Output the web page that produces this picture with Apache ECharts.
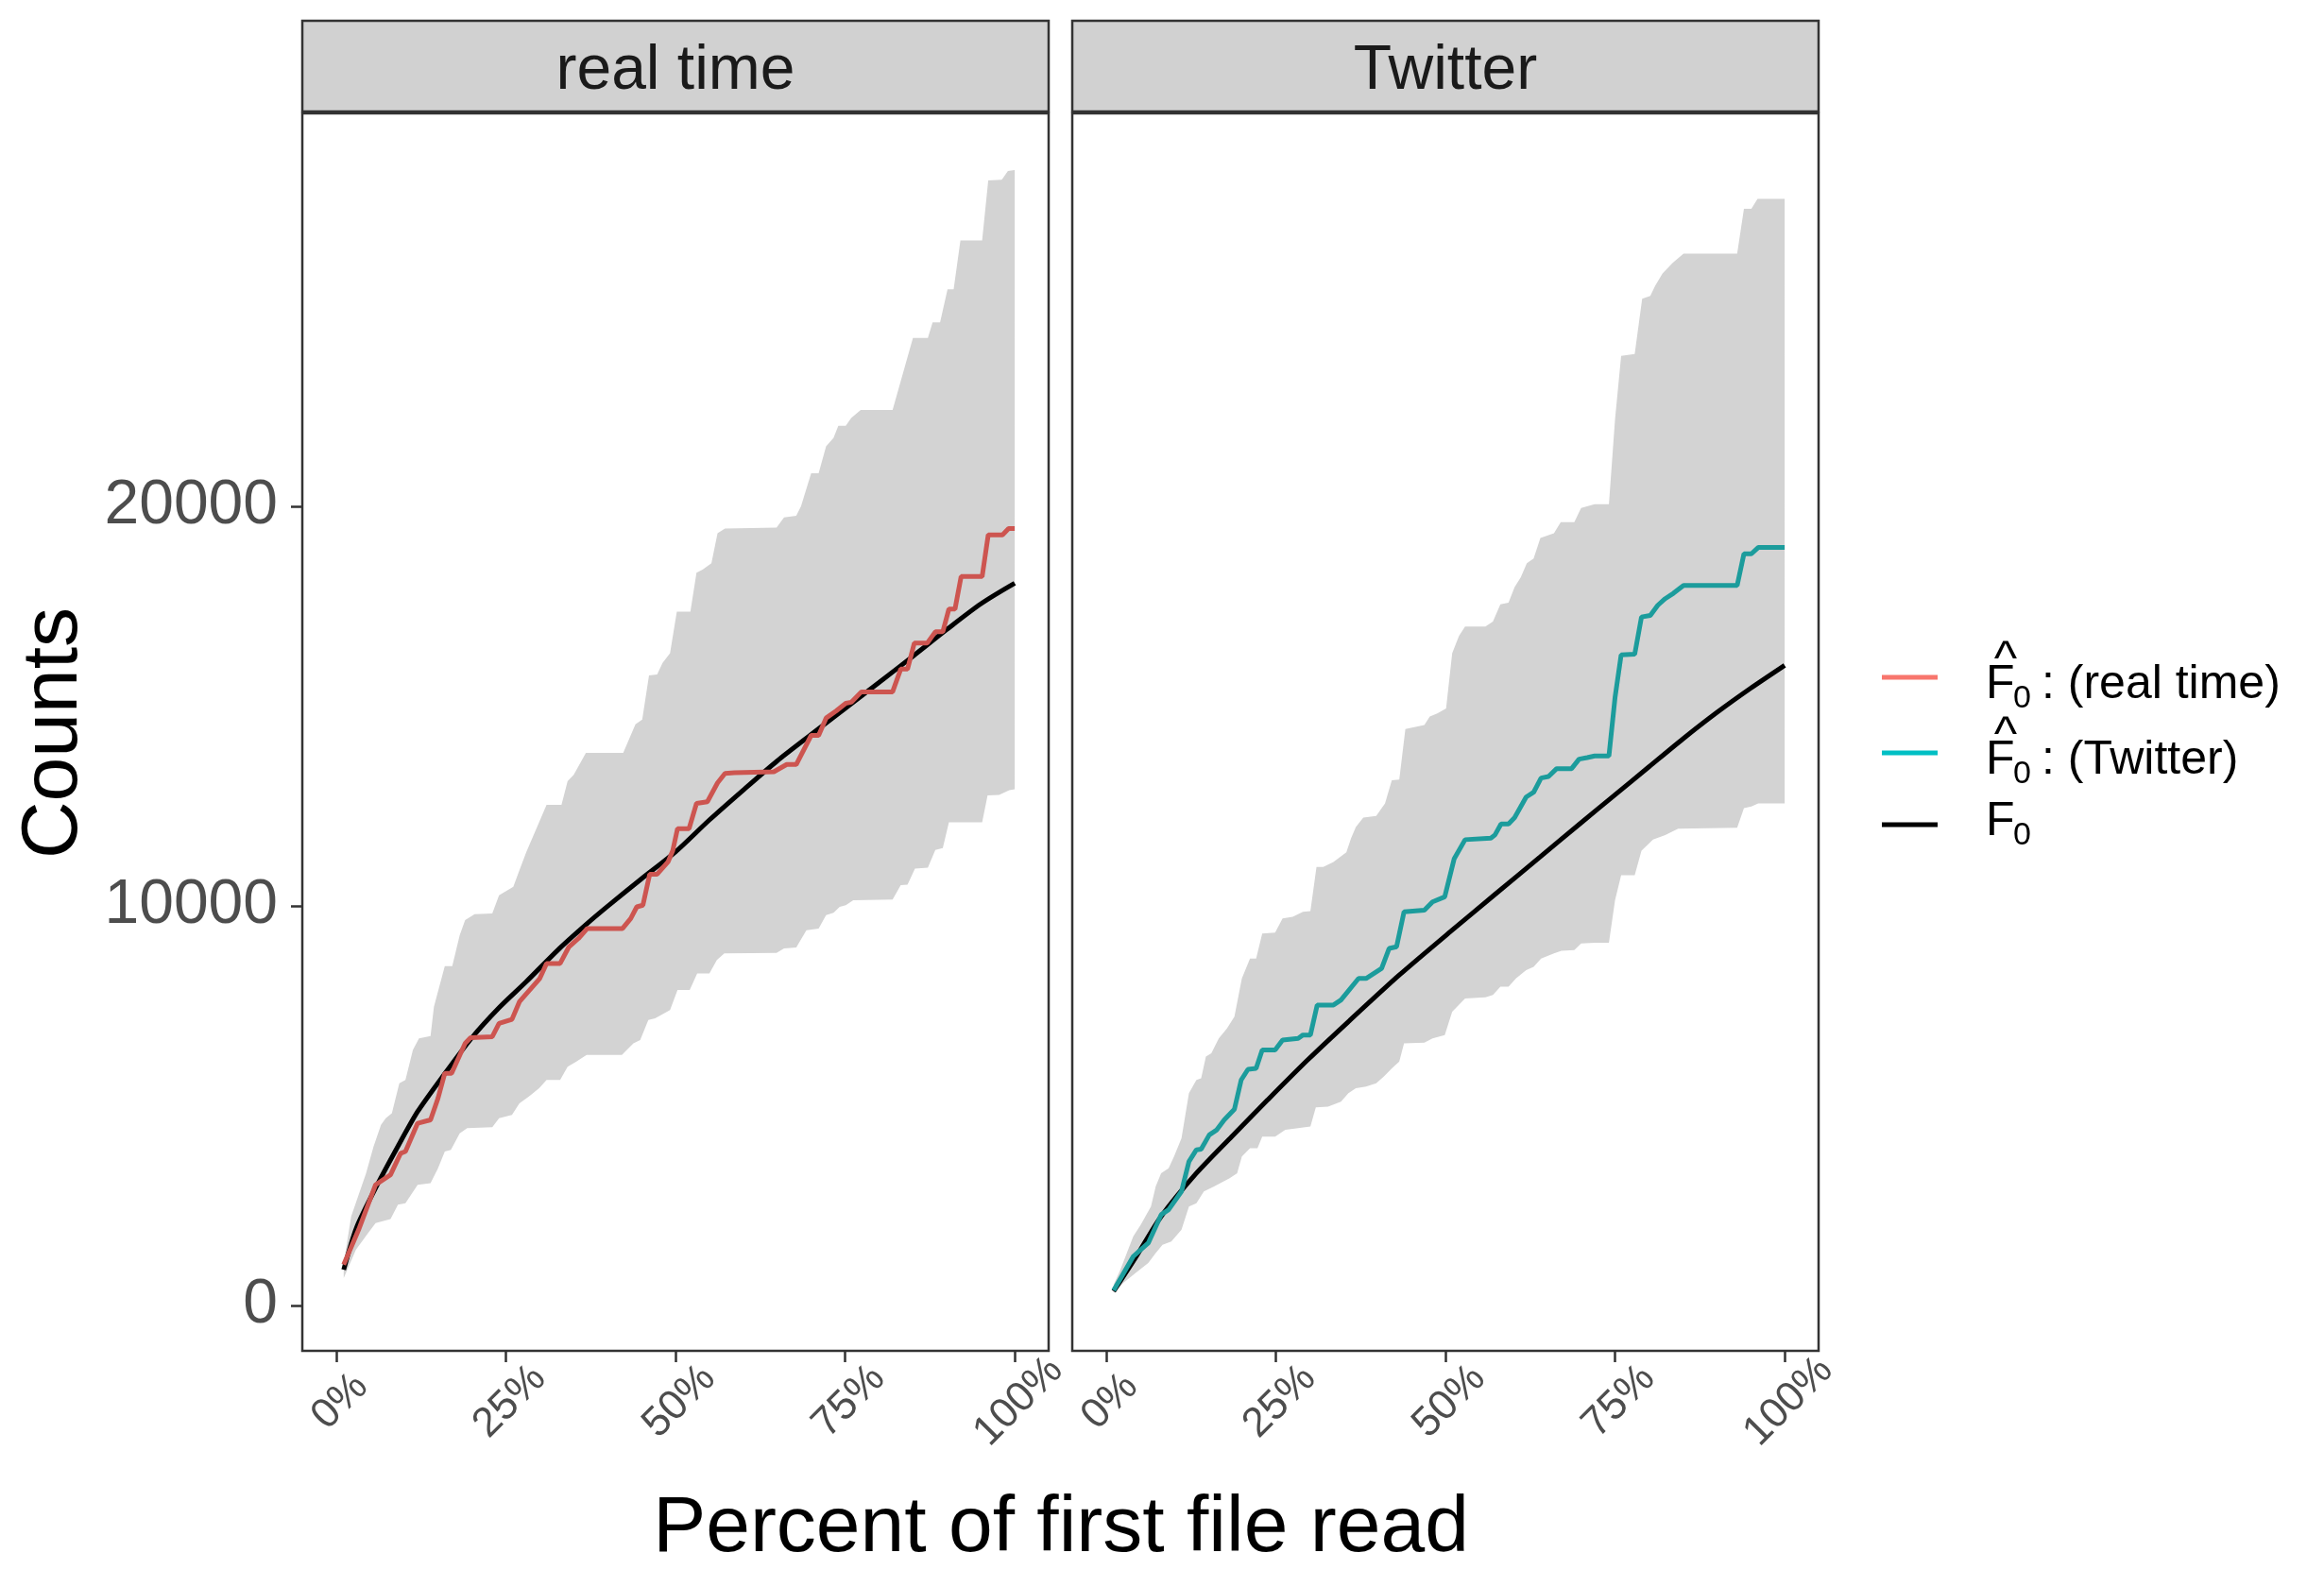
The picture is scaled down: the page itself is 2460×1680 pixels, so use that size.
<!DOCTYPE html>
<html>
<head>
<meta charset="utf-8">
<script src="https://cdn.jsdelivr.net/npm/echarts@6/dist/echarts.min.js"></script>
<style>
html,body{margin:0;padding:0;background:#fff;}
#chart{width:2460px;height:1680px;}
</style>
</head>
<body>
<div id="chart"></div>
<script>
// ---- data (x = percent of first file read, y = counts) ----
const panels = ['real time', 'Twitter'];
const xTicks = [0, 25, 50, 75, 100];
const yTicks = [0, 10000, 20000];

const rtUpper = [[1.1,1050],[2.2,2225],[4.4,3308],[5.5,3975],[6.6,4517],[7.3,4683],[8.2,4808],[9.3,5558],[10.2,5642],[11.3,6392],[12.2,6683],[13.9,6742],[14.4,7475],[16,8492],[17.1,8492],[18.2,9267],[19,9642],[20.4,9792],[23,9808],[24,10267],[26.1,10475],[27,10892],[28,11341],[29.9,12092],[31,12527],[33.2,12527],[34.1,13120],[35,13278],[36.8,13832],[42.3,13832],[44.1,14543],[45.1,14662],[46.1,15769],[47.3,15793],[48.1,16085],[49.2,16323],[50.2,17367],[52.2,17367],[53.1,18339],[54,18418],[55.3,18577],[56.2,19328],[57.3,19446],[64.9,19470],[66,19723],[67.8,19763],[68.5,20000],[70,20830],[71.1,20830],[72.2,21503],[73.3,21716],[74,22017],[75.1,22017],[75.9,22214],[77.3,22412],[82,22412],[85,24218],[87.2,24218],[87.9,24605],[89,24605],[90.1,25435],[91,25435],[92,26661],[95.2,26661],[96.1,28163],[98.1,28180],[99,28400],[100,28424]];
const rtLower = [[1.1,683],[2.9,1392],[4.7,1808],[5.8,2058],[8,2158],[9.1,2517],[10.2,2558],[12,3017],[13.9,3058],[15,3433],[16,3850],[16.9,3892],[18.2,4308],[19.3,4433],[23,4458],[24,4683],[25.9,4767],[27,5058],[28.4,5225],[29.9,5433],[31,5642],[33,5642],[34.1,5975],[35.4,6100],[36.9,6267],[42.1,6267],[43.8,6558],[44.8,6642],[46,7142],[47,7183],[49.2,7392],[50.3,7892],[52.1,7892],[53.2,8308],[55,8308],[56.1,8642],[57.2,8808],[64.9,8825],[66,8933],[67.8,8958],[69.3,9392],[71.1,9433],[72.2,9767],[73.3,9825],[74.2,9975],[75.1,10017],[76.2,10142],[82,10158],[83.2,10517],[84.2,10533],[85.3,10933],[87.2,10958],[88.3,11400],[89.4,11450],[90.3,12092],[95.2,12092],[96,12764],[97.7,12780],[99.2,12898],[100,12922]];
const rtFhat = [[1.1,1017],[3.3,1892],[5.8,3017],[8,3267],[9.5,3808],[10.2,3850],[12,4558],[13.9,4642],[15,5183],[16,5808],[17,5808],[19,6558],[19.8,6700],[23,6725],[24,7058],[25.9,7158],[27,7600],[30,8183],[31,8558],[33,8558],[34.3,8975],[35.7,9183],[37,9433],[42.2,9433],[43.4,9683],[44.3,9975],[45.2,10017],[46.2,10792],[47.3,10792],[48.9,11100],[49.6,11380],[50.3,11933],[52,11933],[53.1,12566],[54.7,12606],[56.2,13080],[57.3,13317],[58.7,13333],[64.5,13357],[66.4,13539],[67.8,13539],[70,14267],[71.1,14267],[72.2,14701],[73.7,14883],[75.1,15073],[75.9,15097],[77.4,15358],[82,15358],[83.2,15927],[84.2,15927],[85.2,16576],[87.1,16576],[88.3,16860],[89.4,16860],[90.3,17430],[91.2,17430],[92.1,18244],[95.2,18244],[96.1,19288],[98.2,19288],[99.1,19446],[100,19446]];
const rtF0 = [[1.1,890],[3,1950],[6,3000],[9,3950],[12,4850],[16,5800],[20,6700],[24,7450],[28,8100],[33,8950],[37,9560],[40,9990],[45,10680],[50,11350],[55,12150],[60,12900],[65,13630],[70,14290],[75,14940],[80,15590],[85,16250],[90,16920],[95,17560],[100,18078]];

const twUpper = [[1.1,517],[2.1,892],[4,1725],[5.1,2017],[6.6,2475],[7.3,2975],[8.1,3308],[9.2,3433],[10,3725],[11.1,4183],[12.2,5308],[13.3,5642],[14,5683],[14.7,6225],[15.5,6308],[16.6,6683],[17.8,6933],[18.9,7225],[20,8183],[21.2,8683],[22.1,8683],[23,9308],[24.9,9333],[26,9683],[27.5,9725],[29,9850],[30.1,9867],[31,10975],[32,10975],[33.5,11100],[35.4,11341],[36.1,11696],[36.8,11973],[37.9,12210],[39.8,12250],[41.1,12566],[42.1,13143],[43.2,13159],[44.1,14425],[46.9,14527],[47.7,14741],[48.8,14820],[50.1,14939],[51,16323],[52,16758],[52.9,16995],[55.9,16995],[57,17114],[58.1,17549],[59.3,17589],[60.2,17983],[61.1,18221],[62,18577],[63,18695],[64,19209],[66,19328],[67,19605],[69,19605],[70,19960],[72,20055],[74.1,20055],[75,22175],[75.9,23770],[77.9,23815],[79,25200],[80.2,25270],[80.9,25520],[82,25830],[83.5,26100],[85.1,26330],[93,26330],[94,27450],[95.1,27450],[96,27700],[100,27700]];
const twLower = [[1.1,308],[2.5,558],[4.3,808],[6.2,1058],[7.3,1308],[8.3,1517],[9.6,1600],[11.1,1892],[12.2,2475],[13.3,2558],[14.4,2850],[15.9,2975],[18.2,3183],[19.3,3308],[20,3725],[21.2,3933],[22.3,3933],[23,4225],[24.9,4225],[26.4,4392],[28.3,4433],[30.1,4475],[30.9,4958],[32.7,4975],[34.6,5100],[35.7,5308],[36.8,5433],[38.3,5475],[39.8,5558],[40.9,5725],[42.1,5933],[43.2,6100],[43.9,6558],[46.9,6575],[48.1,6683],[49.9,6767],[51,7350],[52.9,7683],[55.9,7708],[57,7767],[58.1,7975],[59.3,7975],[60.4,8183],[61.9,8392],[63,8475],[64.1,8683],[66,8808],[67.1,8875],[69,8892],[70,9058],[72,9075],[74.1,9075],[75,10142],[75.9,10767],[77.9,10767],[78.9,11380],[80.6,11657],[82.4,11775],[84.3,11933],[93,11957],[94,12448],[95.1,12487],[96.1,12566],[100,12566]];
const twFhat = [[1.1,375],[4,1225],[6.2,1558],[8.1,2267],[9.2,2392],[11.1,2850],[12.2,3600],[13.3,3892],[14,3908],[15.2,4267],[16.3,4392],[17.4,4642],[18.9,4908],[19.9,5642],[20.9,5908],[22.1,5933],[23,6392],[24.9,6392],[26,6642],[28.3,6683],[29,6767],[30.1,6767],[31.1,7517],[33.5,7517],[34.6,7642],[37.2,8183],[38.3,8183],[40.6,8433],[41.7,8933],[42.8,8975],[43.9,9850],[46.9,9892],[48.1,10100],[49.9,10225],[51.3,11183],[52.9,11657],[56.7,11696],[57.3,11775],[58.2,12052],[59.3,12052],[60.2,12210],[61.9,12724],[63,12843],[64.1,13199],[65.2,13238],[66.4,13436],[68.6,13436],[69.7,13673],[70.9,13713],[72,13752],[74.1,13752],[75,15215],[75.9,16283],[77.9,16299],[78.9,17232],[80.2,17272],[81.3,17525],[82.4,17691],[83.6,17825],[85.1,18023],[93,18023],[94,18814],[95.1,18814],[96.1,18972],[100,18972]];
const twF0 = [[1.1,350],[4.3,1183],[8.1,2225],[13.3,3308],[18.5,4225],[23.8,5142],[29.7,6142],[35.7,7100],[43.2,8267],[50.7,9350],[57.4,10300],[64,11230],[70,12080],[75,12780],[80,13480],[85,14180],[90,14840],[95,15450],[100,16022]];

// legend entries: key colour, whether the F carries a hat, trailing label
const legendColors = ['#F8766D', '#00BFC4', '#000000'];
const legendHats = [true, true, false];
const legendTexts = [': (real time)', ': (Twitter)', ''];

// ---- chart ----
const FONT = '"Liberation Sans", Arial, Helvetica, sans-serif';
const chart = echarts.init(document.getElementById('chart'), null, {renderer: 'canvas'});

const gridBox = [
  {left: 320, top: 120, width: 790, height: 1310},
  {left: 1135, top: 120, width: 790, height: 1310}
];

function ribbon(upper, lower, idx) {
  return {
    type: 'custom', name: 'ribbon' + idx, xAxisIndex: idx, yAxisIndex: idx, z: 1,
    silent: true, data: [[upper[0][0], upper[0][1]]],
    renderItem: function (params, api) {
      const pts = upper.map(p => api.coord(p)).concat(lower.slice().reverse().map(p => api.coord(p)));
      return {type: 'polygon', shape: {points: pts}, style: {fill: '#D3D3D3', stroke: null}};
    }
  };
}
function line(name, data, idx, color, z, smooth) {
  return {type: 'line', name: name, data: data, xAxisIndex: idx, yAxisIndex: idx,
    showSymbol: false, symbol: 'none', z: z, smooth: smooth || false,
    lineStyle: {color: color, width: 5}, itemStyle: {color: color}};
}

const xAxes = [0, 1].map(i => ({
  type: 'value', gridIndex: i, min: -5, max: 105,
  axisLine: {show: false, onZero: false}, splitLine: {show: false},
  axisTick: {show: true, customValues: xTicks, length: 12, lineStyle: {color: '#333333', width: 2.5}},
  axisLabel: {customValues: xTicks, formatter: v => v + '%', rotate: 45, fontSize: 44,
    fontFamily: FONT, color: '#4D4D4D', align: 'center', verticalAlign: 'middle', margin: 58, padding: [0, 0, 0, 12]}
}));
const yAxes = [0, 1].map(i => ({
  type: 'value', gridIndex: i, min: -1140, max: 29840,
  axisLine: {show: false, onZero: false}, splitLine: {show: false},
  axisTick: {show: i === 0, customValues: yTicks, length: 12, lineStyle: {color: '#333333', width: 2.5}},
  axisLabel: {show: i === 0, customValues: yTicks, formatter: v => String(v), fontSize: 66, fontFamily: FONT, color: '#4D4D4D', margin: 26}
}));

const graphics = [];
panels.forEach((p, i) => {
  graphics.push({type: 'rect', z: 10, shape: {x: gridBox[i].left, y: 22, width: gridBox[i].width, height: 96},
    style: {fill: '#D1D1D1', stroke: '#333333', lineWidth: 2.5}});
  graphics.push({type: 'text', z: 11, x: gridBox[i].left + gridBox[i].width / 2, y: 76,
    style: {text: p, fill: '#1A1A1A', font: '66px ' + FONT, align: 'center', verticalAlign: 'middle'}});
});
graphics.push({type: 'text', x: 1123, y: 1619,
  style: {text: 'Percent of first file read', fill: '#000', font: '84px ' + FONT, align: 'center', verticalAlign: 'middle'}});
graphics.push({type: 'text', x: 58, y: 776, rotation: Math.PI / 2,
  style: {text: 'Counts', fill: '#000', font: '84px ' + FONT, align: 'center', verticalAlign: 'middle'}});

// legend (drawn as graphic so that the plotmath-like F-hat with subscript can be laid out)
const keyY = [717, 797, 873];
legendColors.forEach((c, k) => {
  const y = keyY[k];
  const fc = legendHats[k] ? y + 8 : y - 3;
  graphics.push({type: 'line', shape: {x1: 1992, y1: y, x2: 2051, y2: y}, style: {stroke: c, lineWidth: 5}});
  graphics.push({type: 'text', x: 2102, y: fc, style: {text: 'F', fill: '#000', font: '50px ' + FONT, align: 'left', verticalAlign: 'middle'}});
  graphics.push({type: 'text', x: 2131, y: fc + 15, style: {text: '0', fill: '#000', font: '34px ' + FONT, align: 'left', verticalAlign: 'middle'}});
  if (legendHats[k]) {
    graphics.push({type: 'text', x: 2123, y: fc - 25, style: {text: '^', fill: '#000', font: '52px ' + FONT, align: 'center', verticalAlign: 'middle'}});
  }
  if (legendTexts[k]) {
    graphics.push({type: 'text', x: 2161, y: fc, style: {text: legendTexts[k], fill: '#000', font: '50px ' + FONT, align: 'left', verticalAlign: 'middle'}});
  }
});

const option = {
  animation: false,
  backgroundColor: '#ffffff',
  grid: gridBox.map(g => Object.assign({show: true, borderColor: '#333333', borderWidth: 2.5, backgroundColor: '#ffffff', containLabel: false}, g)),
  xAxis: xAxes,
  yAxis: yAxes,
  legend: {show: false},
  graphic: graphics,
  series: [
    ribbon(rtUpper, rtLower, 0),
    line('F0', rtF0, 0, '#000000', 3, 0.25),
    line('Fhat (real time)', rtFhat, 0, '#CD5550', 4),
    ribbon(twUpper, twLower, 1),
    line('F0', twF0, 1, '#000000', 3, 0.25),
    line('Fhat (Twitter)', twFhat, 1, '#1C9C9C', 4)
  ]
};
chart.setOption(option);
</script>
</body>
</html>
